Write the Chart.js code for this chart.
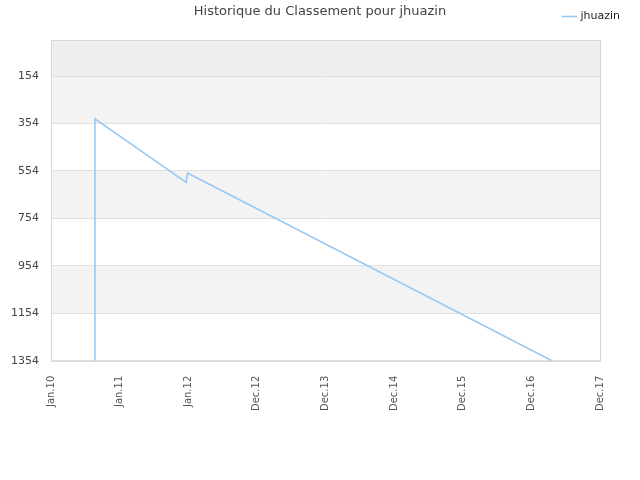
<!DOCTYPE html>
<html>
<head>
<meta charset="utf-8">
<style>
  html, body { margin: 0; padding: 0; background: #fff; }
  #wrap { width: 640px; height: 480px; position: relative; }
</style>
<script src="https://cdn.jsdelivr.net/npm/chart.js"></script>
</head>
<body>
<div id="wrap"><canvas id="rankChart"></canvas></div>
<script>
const chartTitle = 'Historique du Classement pour jhuazin';
const seriesName = 'jhuazin';
const xLabels = ['Jan.10', 'Jan.11', 'Jan.12', 'Dec.12', 'Dec.13', 'Dec.14', 'Dec.15', 'Dec.16', 'Dec.17'];
const yTicks = [154, 354, 554, 754, 954, 1154, 1354];
// positions along the x axis (in label steps) and ranks
const pointX = [0.64, 0.64, 1.97, 1.99, 7.30];
const pointRank = [1354, 334, 602, 563, 1354];

// alternating background bands, frame and title
const bands = {
  id: 'bands',
  beforeDraw(chart) {
    const { ctx, chartArea: a, scales: { y } } = chart;
    const edges = [y.min].concat(yTicks);
    ctx.save();
    for (let i = 0; i < edges.length - 1; i++) {
      const y0 = y.getPixelForValue(edges[i]);
      const y1 = y.getPixelForValue(edges[i + 1]);
      ctx.fillStyle = i === 0 ? '#eeeeee' : (i % 2 === 1 ? '#f3f3f3' : '#ffffff');
      ctx.fillRect(a.left, y0, a.right - a.left, y1 - y0);
    }
    ctx.restore();
  },
  afterDraw(chart) {
    const { ctx, chartArea: a } = chart;
    ctx.save();
    ctx.strokeStyle = '#d8d8d8';
    ctx.lineWidth = 1;
    ctx.strokeRect(Math.round(a.left) + 0.5, Math.round(a.top) + 0.5,
      Math.round(a.right - a.left), Math.round(a.bottom - a.top));
    ctx.fillStyle = '#444';
    ctx.font = '13px "DejaVu Sans", sans-serif';
    ctx.textAlign = 'center';
    ctx.textBaseline = 'middle';
    ctx.fillText(chartTitle, 320, 12);
    ctx.restore();
  }
};

new Chart(document.getElementById('rankChart'), {
  type: 'line',
  data: {
    datasets: [{
      label: seriesName,
      data: pointX.map((x, i) => ({ x: x, y: pointRank[i] })),
      borderColor: '#98c8f4',
      backgroundColor: '#98c8f4',
      borderWidth: 1.6,
      pointRadius: 0,
      tension: 0,
      fill: false
    }]
  },
  options: {
    responsive: true,
    maintainAspectRatio: false,
    animation: false,
    layout: { padding: { left: 11, right: 12, top: 3, bottom: 62 } },
    scales: {
      x: {
        type: 'linear',
        min: 0,
        max: xLabels.length - 1,
        grid: { display: false },
        border: { display: false },
        ticks: {
          stepSize: 1,
          autoSkip: false,
          minRotation: 90,
          maxRotation: 90,
          padding: 7,
          color: '#555',
          font: { family: 'DejaVu Sans', size: 10 },
          callback: (v) => xLabels[v]
        }
      },
      xGap: {
        type: 'linear',
        position: 'top',
        grid: { display: false },
        border: { display: false },
        ticks: { display: false },
        afterFit: (s) => { s.height = 8; }
      },
      y: {
        reverse: true,
        min: 2,
        max: 1354,
        afterBuildTicks: (s) => { s.ticks = yTicks.map(v => ({ value: v })); },
        afterFit: (s) => { s.width = 40; },
        grid: { color: '#e0e0e0', drawTicks: false },
        border: { display: false },
        ticks: {
          padding: 12,
          color: '#444',
          font: { family: 'DejaVu Sans', size: 11 },
          callback: (v) => String(v)
        }
      },
      yGap: {
        type: 'linear',
        position: 'right',
        grid: { display: false },
        border: { display: false },
        ticks: { display: false },
        afterFit: (s) => { s.width = 28; }
      }
    },
    plugins: {
      title: { display: false },
      tooltip: { enabled: false },
      legend: {
        position: 'top',
        align: 'end',
        labels: {
          usePointStyle: true,
          pointStyle: 'line',
          boxWidth: 12,
          color: '#222',
          padding: 8,
          font: { family: 'DejaVu Sans', size: 11 }
        }
      }
    }
  },
  plugins: [bands]
});
</script>
</body>
</html>
